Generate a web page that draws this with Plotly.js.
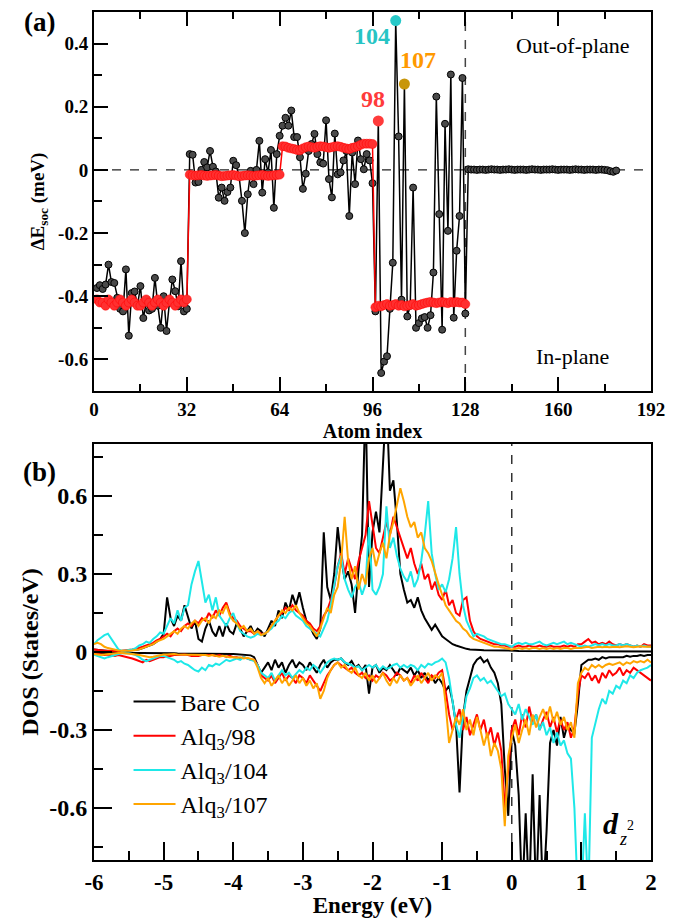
<!DOCTYPE html>
<html>
<head>
<meta charset="utf-8">
<script src="https://cdn.plot.ly/plotly-3.0.1.min.js"></script>
<style>html,body{margin:0;padding:0;background:#fff;}#chart{width:681px;height:918px;}</style>
</head>
<body>
<div id="chart"></div>
<script>
// ---------- Panel (a): ΔE_soc vs atom index ----------
const atomIndex = [
1,2,3,4,5,6,7,8,9,10,11,12,13,14,15,16,17,18,19,20,
21,22,23,24,25,26,27,28,29,30,31,32,33,34,35,36,37,38,39,40,
41,42,43,44,45,46,47,48,49,50,51,52,53,54,55,56,57,58,59,60,
61,62,63,64,65,66,67,68,69,70,71,72,73,74,75,76,77,78,79,80,
81,82,83,84,85,86,87,88,89,90,91,92,93,94,95,96,97,98,99,100,
101,102,103,104,105,106,107,108,109,110,111,112,113,114,115,116,117,118,119,120,
121,122,123,124,125,126,127,128,129,130,131,132,133,134,135,136,137,138,139,140,
141,142,143,144,145,146,147,148,149,150,151,152,153,154,155,156,157,158,159,160,
161,162,163,164,165,166,167,168,169,170,171,172,173,174,175,176,177,178,179,180];

const dEsocAtom = [
-0.374,-0.365,-0.377,-0.363,-0.30,-0.355,-0.358,-0.405,-0.44,-0.448,
-0.315,-0.525,-0.39,-0.385,-0.43,-0.368,-0.469,-0.42,-0.445,-0.44,
-0.342,-0.43,-0.50,-0.40,-0.51,-0.42,-0.347,-0.384,-0.432,-0.289,
-0.448,-0.44,0.05,0.048,-0.04,-0.038,0.0,0.025,0.008,0.06,
0.01,-0.005,-0.088,-0.056,-0.098,-0.07,-0.056,0.029,0.015,-0.02,
-0.098,-0.20,-0.077,-0.003,-0.045,0.0,0.092,-0.072,0.034,-0.008,
0.063,-0.12,0.05,0.108,0.14,0.165,0.14,0.188,0.104,0.104,
0.04,-0.06,-0.012,0.06,0.082,0.114,0.05,0.024,0.02,0.157,
-0.029,-0.087,0.115,-0.014,-0.008,0.03,0.06,-0.146,0.055,-0.045,
0.093,0.034,0.002,0.05,0.03,-0.042,-0.448,0.155,-0.643,-0.607,
-0.59,-0.44,-0.294,0.473,0.106,-0.411,0.272,-0.464,-0.43,-0.056,
-0.50,-0.485,-0.47,-0.466,-0.50,-0.46,-0.325,0.232,-0.14,-0.506,
0.146,-0.193,0.302,-0.468,-0.256,-0.146,0.291,-0.455,0.002,0.001,
0.001,0.0,0.001,0.001,0.0,0.001,0.002,0.001,0.001,0.0,
0.001,0.001,0.002,0.001,0.0,0.001,0.001,0.001,0.0,0.001,
0.002,0.001,0.001,0.0,0.001,0.001,0.001,0.002,0.001,0.0,
0.001,0.001,0.001,0.0,0.001,0.002,0.001,0.001,0.0,0.001,
0.001,0.001,0.0,0.001,0.001,0.0,-0.001,-0.004,-0.006,-0.002];

const dEsocLayerAvg = [
-0.41,-0.42,-0.42,-0.43,-0.41,-0.42,-0.43,-0.42,-0.41,-0.42,
-0.43,-0.42,-0.41,-0.42,-0.43,-0.43,-0.42,-0.41,-0.42,-0.43,
-0.42,-0.41,-0.42,-0.43,-0.42,-0.41,-0.42,-0.43,-0.42,-0.41,
-0.42,-0.41,
-0.015,-0.017,-0.018,-0.017,-0.016,-0.018,-0.019,-0.018,-0.017,-0.016,
-0.018,-0.02,-0.019,-0.018,-0.017,-0.016,-0.018,-0.02,-0.019,-0.018,
-0.017,-0.018,-0.019,-0.018,-0.017,-0.016,-0.018,-0.019,-0.018,-0.017,
-0.016,-0.015,
0.075,0.074,0.07,0.068,0.066,0.063,0.062,0.068,0.072,0.074,
0.072,0.07,0.073,0.075,0.074,0.072,0.07,0.072,0.074,0.075,
0.073,0.07,0.068,0.066,0.07,0.072,0.075,0.08,0.083,0.083,
0.083,0.082,
-0.435,-0.43,-0.432,-0.428,-0.425,-0.43,-0.428,-0.425,-0.43,-0.428,
-0.432,-0.43,-0.428,-0.425,-0.43,-0.428,-0.425,-0.422,-0.42,-0.418,
-0.42,-0.422,-0.42,-0.418,-0.42,-0.422,-0.418,-0.42,-0.418,-0.42,
-0.42,-0.425];

const siteAtoms  = [98, 104, 107];
const siteValues = [0.155, 0.473, 0.272];
const siteLabels = ['98', '104', '107'];

const topXTickVals = [0, 32, 64, 96, 128, 160, 192];
const topXTickText = ['0', '32', '64', '96', '128', '160', '192'];
const topYTickVals = [-0.6, -0.4, -0.2, 0, 0.2, 0.4];
const topYTickText = ['-0.6', '-0.4', '-0.2', '0', '0.2', '0.4'];

// ---------- Panel (b): d_z2 DOS ----------
const energy = [
-6,-5.95,-5.9,-5.85,-5.8,-5.75,-5.7,-5.65,-5.6,-5.55,
-5.5,-5.45,-5.4,-5.35,-5.3,-5.25,-5.2,-5.15,-5.1,-5.05,
-5,-4.95,-4.9,-4.85,-4.8,-4.75,-4.7,-4.65,-4.6,-4.55,
-4.5,-4.45,-4.4,-4.35,-4.3,-4.25,-4.2,-4.15,-4.1,-4.05,
-4,-3.95,-3.9,-3.85,-3.8,-3.75,-3.7,-3.65,-3.6,-3.55,
-3.5,-3.45,-3.4,-3.35,-3.3,-3.25,-3.2,-3.15,-3.1,-3.05,
-3,-2.95,-2.9,-2.85,-2.8,-2.75,-2.7,-2.65,-2.6,-2.55,
-2.5,-2.45,-2.4,-2.35,-2.3,-2.25,-2.2,-2.15,-2.1,-2.05,
-2,-1.95,-1.9,-1.85,-1.8,-1.75,-1.7,-1.65,-1.6,-1.55,
-1.5,-1.45,-1.4,-1.35,-1.3,-1.25,-1.2,-1.15,-1.1,-1.05,
-1,-0.95,-0.9,-0.85,-0.8,-0.75,-0.7,-0.65,-0.6,-0.55,
-0.5,-0.45,-0.4,-0.35,-0.3,-0.25,-0.2,-0.15,-0.1,-0.05,
0,0.05,0.1,0.15,0.2,0.25,0.3,0.35,0.4,0.45,
0.5,0.55,0.6,0.65,0.7,0.75,0.8,0.85,0.9,0.95,
1,1.05,1.1,1.15,1.2,1.25,1.3,1.35,1.4,1.45,
1.5,1.55,1.6,1.65,1.7,1.75,1.8,1.85,1.9,1.95,
2];

const bareUp = [
0.010,0.008,0.006,0.005,0.004,0.004,0.003,0.003,0.003,0.004,
0.005,0.006,0.008,0.010,0.015,0.020,0.025,0.030,0.040,0.050,
0.070,0.210,0.130,0.100,0.140,0.120,0.180,0.130,0.090,0.120,
0.050,0.040,0.090,0.120,0.080,0.060,0.100,0.060,0.110,0.080,
0.070,0.110,0.090,0.060,0.080,0.100,0.070,0.090,0.080,0.060,
0.090,0.120,0.100,0.160,0.130,0.190,0.160,0.220,0.180,0.230,
0.170,0.120,0.100,0.070,0.050,0.090,0.460,0.250,0.200,0.300,
0.480,0.360,0.280,0.310,0.260,0.150,0.320,0.450,0.980,0.250,
0.460,0.540,0.460,0.750,0.980,0.620,0.660,0.500,0.300,0.240,
0.190,0.200,0.170,0.210,0.160,0.130,0.110,0.085,0.105,0.080,
0.060,0.050,0.040,0.030,0.025,0.020,0.015,0.012,0.010,0.010,
0.008,0.008,0.007,0.007,0.006,0.006,0.006,0.005,0.005,0.005,
0.005,0.005,0.004,0.004,0.004,0.004,0.003,0.003,0.003,0.003,
0.003,0.003,0.003,0.003,0.002,0.002,0.002,0.002,0.002,0.002,
0.002,0.002,0.002,0.002,0.002,0.002,0.002,0.002,0.002,0.002,
0.002,0.002,0.002,0.002,0.002,0.002,0.002,0.002,0.002,0.002,
0.002];
const bareDown = [
-0.003,-0.004,-0.004,-0.004,-0.003,-0.003,-0.003,-0.003,-0.003,-0.003,
-0.003,-0.003,-0.003,-0.004,-0.004,-0.004,-0.004,-0.005,-0.005,-0.005,
-0.005,-0.005,-0.005,-0.005,-0.006,-0.006,-0.006,-0.006,-0.006,-0.006,
-0.006,-0.006,-0.007,-0.007,-0.007,-0.007,-0.008,-0.008,-0.008,-0.008,
-0.008,-0.009,-0.010,-0.011,-0.012,-0.013,-0.020,-0.050,-0.080,-0.060,
-0.040,-0.070,-0.030,-0.060,-0.040,-0.080,-0.050,-0.030,-0.060,-0.040,
-0.050,-0.070,-0.040,-0.060,-0.080,-0.050,-0.030,-0.060,-0.040,-0.030,
-0.030,-0.025,-0.040,-0.050,-0.035,-0.060,-0.050,-0.070,-0.050,-0.160,
-0.060,-0.050,-0.080,-0.060,-0.070,-0.050,-0.070,-0.090,-0.060,-0.070,
-0.080,-0.060,-0.090,-0.070,-0.100,-0.080,-0.110,-0.090,-0.120,-0.100,
-0.120,-0.150,-0.130,-0.190,-0.280,-0.540,-0.250,-0.150,-0.100,-0.050,
-0.030,-0.020,-0.040,-0.030,-0.060,-0.080,-0.120,-0.200,-0.450,-0.630,
-0.300,-0.360,-0.550,-0.950,-0.620,-0.950,-0.470,-0.950,-0.550,-0.950,
-0.690,-0.350,-0.300,-0.360,-0.250,-0.330,-0.280,-0.300,-0.310,-0.200,
-0.050,-0.040,-0.030,-0.030,-0.025,-0.030,-0.020,-0.025,-0.020,-0.020,
-0.020,-0.018,-0.020,-0.015,-0.018,-0.015,-0.015,-0.012,-0.015,-0.012,
-0.012];

const alq98Up = [
0.010,0.008,0.006,0.005,0.005,0.004,0.004,0.004,0.005,0.006,
0.008,0.010,0.012,0.015,0.020,0.025,0.030,0.035,0.045,0.050,
0.060,0.070,0.060,0.080,0.090,0.080,0.100,0.110,0.100,0.120,
0.110,0.130,0.120,0.150,0.130,0.160,0.140,0.170,0.190,0.150,
0.130,0.120,0.100,0.090,0.080,0.080,0.070,0.080,0.070,0.070,
0.080,0.100,0.120,0.140,0.150,0.170,0.160,0.180,0.160,0.150,
0.140,0.120,0.110,0.090,0.080,0.100,0.140,0.160,0.200,0.250,
0.330,0.380,0.300,0.360,0.320,0.280,0.350,0.400,0.450,0.580,
0.480,0.400,0.380,0.440,0.500,0.450,0.520,0.480,0.440,0.400,
0.360,0.400,0.340,0.300,0.340,0.280,0.300,0.240,0.270,0.220,
0.200,0.240,0.180,0.200,0.150,0.140,0.200,0.210,0.120,0.080,
0.060,0.050,0.045,0.040,0.035,0.030,0.030,0.025,0.025,0.020,
0.020,0.020,0.025,0.020,0.020,0.025,0.020,0.020,0.025,0.020,
0.020,0.025,0.020,0.020,0.020,0.025,0.020,0.025,0.020,0.030,
0.030,0.040,0.050,0.035,0.040,0.030,0.035,0.030,0.040,0.030,
0.025,0.030,0.025,0.030,0.025,0.020,0.025,0.020,0.030,0.025,
0.025];
const alq98Down = [
-0.005,-0.008,-0.010,-0.012,-0.010,-0.012,-0.015,-0.012,-0.015,-0.018,
-0.020,-0.025,-0.030,-0.035,-0.040,-0.030,-0.035,-0.030,-0.025,-0.020,
-0.020,-0.015,-0.015,-0.012,-0.012,-0.010,-0.010,-0.012,-0.015,-0.015,
-0.015,-0.012,-0.012,-0.010,-0.012,-0.015,-0.012,-0.015,-0.018,-0.015,
-0.020,-0.020,-0.025,-0.020,-0.025,-0.030,-0.030,-0.050,-0.090,-0.100,
-0.110,-0.090,-0.120,-0.100,-0.080,-0.110,-0.090,-0.100,-0.120,-0.090,
-0.100,-0.120,-0.090,-0.110,-0.130,-0.150,-0.120,-0.090,-0.070,-0.050,
-0.040,-0.050,-0.060,-0.070,-0.060,-0.080,-0.090,-0.080,-0.100,-0.090,
-0.110,-0.090,-0.100,-0.080,-0.090,-0.110,-0.100,-0.080,-0.090,-0.110,
-0.100,-0.120,-0.090,-0.110,-0.080,-0.100,-0.120,-0.090,-0.100,-0.080,
-0.070,-0.150,-0.240,-0.300,-0.260,-0.220,-0.300,-0.250,-0.320,-0.280,
-0.240,-0.300,-0.260,-0.330,-0.290,-0.360,-0.310,-0.380,-0.600,-0.450,
-0.300,-0.260,-0.320,-0.240,-0.290,-0.210,-0.270,-0.240,-0.300,-0.260,
-0.230,-0.290,-0.250,-0.310,-0.260,-0.300,-0.270,-0.330,-0.290,-0.160,
-0.090,-0.100,-0.080,-0.110,-0.090,-0.120,-0.080,-0.100,-0.070,-0.090,
-0.080,-0.060,-0.090,-0.070,-0.080,-0.060,-0.070,-0.080,-0.090,-0.100,
-0.110];

const alq104Up = [
0.030,0.045,0.055,0.065,0.070,0.050,0.025,0.010,0.005,0.005,
0.008,0.010,0.015,0.025,0.030,0.040,0.035,0.050,0.060,0.075,
0.070,0.100,0.130,0.110,0.160,0.120,0.170,0.180,0.260,0.310,
0.350,0.270,0.190,0.220,0.160,0.210,0.140,0.120,0.100,0.130,
0.150,0.110,0.080,0.070,0.060,0.055,0.060,0.070,0.065,0.070,
0.080,0.090,0.110,0.120,0.140,0.130,0.150,0.160,0.140,0.130,
0.120,0.100,0.090,0.080,0.070,0.060,0.090,0.120,0.180,0.250,
0.330,0.370,0.280,0.240,0.210,0.250,0.270,0.220,0.260,0.480,
0.240,0.220,0.250,0.300,0.560,0.400,0.440,0.370,0.320,0.290,
0.270,0.310,0.250,0.280,0.350,0.450,0.580,0.380,0.300,0.240,
0.260,0.230,0.280,0.360,0.480,0.300,0.180,0.120,0.090,0.060,
0.070,0.065,0.060,0.050,0.045,0.040,0.035,0.030,0.030,0.025,
0.020,0.030,0.035,0.030,0.035,0.030,0.030,0.035,0.040,0.030,
0.025,0.030,0.035,0.030,0.035,0.040,0.030,0.035,0.030,0.025,
0.020,0.025,0.020,0.025,0.030,0.025,0.030,0.025,0.030,0.025,
0.025,0.030,0.025,0.030,0.025,0.020,0.025,0.020,0.025,0.020,
0.020];
const alq104Down = [
-0.010,-0.015,-0.020,-0.025,-0.020,-0.015,-0.010,-0.008,-0.005,-0.005,
-0.005,-0.008,-0.012,-0.020,-0.030,-0.035,-0.030,-0.025,-0.020,-0.015,
-0.015,-0.020,-0.025,-0.030,-0.040,-0.035,-0.045,-0.050,-0.060,-0.070,
-0.075,-0.060,-0.070,-0.050,-0.055,-0.045,-0.050,-0.040,-0.030,-0.035,
-0.030,-0.025,-0.030,-0.020,-0.025,-0.030,-0.035,-0.050,-0.080,-0.090,
-0.100,-0.080,-0.110,-0.090,-0.070,-0.090,-0.080,-0.100,-0.085,-0.070,
-0.080,-0.060,-0.070,-0.050,-0.060,-0.080,-0.060,-0.040,-0.030,-0.025,
-0.030,-0.025,-0.040,-0.045,-0.050,-0.060,-0.055,-0.070,-0.060,-0.050,
-0.060,-0.050,-0.070,-0.055,-0.065,-0.060,-0.050,-0.045,-0.060,-0.050,
-0.060,-0.050,-0.055,-0.070,-0.050,-0.060,-0.045,-0.050,-0.040,-0.035,
-0.025,-0.040,-0.100,-0.200,-0.280,-0.330,-0.250,-0.170,-0.140,-0.100,
-0.090,-0.110,-0.100,-0.120,-0.110,-0.130,-0.150,-0.170,-0.160,-0.200,
-0.220,-0.240,-0.200,-0.260,-0.220,-0.250,-0.280,-0.240,-0.300,-0.270,
-0.320,-0.290,-0.350,-0.310,-0.360,-0.340,-0.390,-0.410,-0.600,-0.950,
-0.950,-0.620,-0.950,-0.330,-0.270,-0.220,-0.180,-0.200,-0.150,-0.160,
-0.130,-0.140,-0.110,-0.120,-0.090,-0.100,-0.080,-0.070,-0.065,-0.060,
-0.050];

const alq107Up = [
0.030,0.035,0.030,0.020,0.015,0.012,0.008,0.006,0.005,0.005,
0.005,0.006,0.008,0.010,0.015,0.020,0.025,0.030,0.040,0.045,
0.050,0.060,0.070,0.080,0.070,0.090,0.100,0.090,0.110,0.120,
0.100,0.120,0.130,0.110,0.140,0.130,0.160,0.150,0.180,0.140,
0.120,0.110,0.090,0.100,0.080,0.090,0.070,0.080,0.065,0.070,
0.080,0.100,0.120,0.140,0.160,0.150,0.170,0.160,0.180,0.150,
0.130,0.110,0.100,0.080,0.060,0.090,0.130,0.170,0.150,0.220,
0.250,0.350,0.520,0.350,0.280,0.330,0.240,0.300,0.260,0.360,
0.400,0.330,0.380,0.420,0.360,0.450,0.500,0.560,0.630,0.580,
0.520,0.480,0.500,0.440,0.460,0.400,0.380,0.350,0.300,0.260,
0.220,0.180,0.160,0.140,0.120,0.110,0.090,0.080,0.060,0.050,
0.045,0.040,0.035,0.030,0.025,0.020,0.020,0.018,0.015,0.012,
0.010,0.012,0.015,0.012,0.015,0.012,0.015,0.015,0.012,0.015,
0.012,0.015,0.012,0.015,0.012,0.015,0.015,0.012,0.015,0.015,
0.015,0.018,0.020,0.015,0.018,0.020,0.018,0.020,0.018,0.020,
0.020,0.018,0.020,0.022,0.020,0.018,0.020,0.022,0.020,0.020,
0.020];
const alq107Down = [
-0.008,-0.010,-0.012,-0.010,-0.008,-0.006,-0.005,-0.004,-0.004,-0.005,
-0.006,-0.008,-0.010,-0.012,-0.015,-0.018,-0.020,-0.018,-0.015,-0.012,
-0.010,-0.010,-0.008,-0.008,-0.010,-0.010,-0.012,-0.012,-0.010,-0.012,
-0.012,-0.010,-0.012,-0.015,-0.012,-0.015,-0.018,-0.015,-0.018,-0.020,
-0.020,-0.022,-0.020,-0.025,-0.022,-0.025,-0.030,-0.060,-0.100,-0.120,
-0.100,-0.130,-0.110,-0.090,-0.120,-0.100,-0.130,-0.110,-0.090,-0.120,
-0.100,-0.130,-0.110,-0.140,-0.120,-0.180,-0.150,-0.100,-0.070,-0.050,
-0.040,-0.060,-0.050,-0.070,-0.080,-0.060,-0.090,-0.100,-0.080,-0.110,
-0.090,-0.120,-0.100,-0.080,-0.110,-0.130,-0.100,-0.120,-0.090,-0.110,
-0.100,-0.130,-0.110,-0.090,-0.120,-0.100,-0.080,-0.110,-0.090,-0.100,
-0.080,-0.200,-0.350,-0.300,-0.250,-0.280,-0.220,-0.300,-0.260,-0.320,
-0.250,-0.300,-0.360,-0.310,-0.400,-0.350,-0.380,-0.450,-0.670,-0.400,
-0.330,-0.280,-0.350,-0.300,-0.260,-0.320,-0.240,-0.290,-0.250,-0.220,
-0.260,-0.210,-0.270,-0.230,-0.280,-0.250,-0.300,-0.270,-0.330,-0.120,
-0.080,-0.060,-0.070,-0.050,-0.060,-0.050,-0.060,-0.050,-0.045,-0.050,
-0.045,-0.040,-0.050,-0.040,-0.045,-0.035,-0.040,-0.035,-0.040,-0.030,
-0.040];

const dosNames = ['Bare Co', 'Alq<sub>3</sub>/98', 'Alq<sub>3</sub>/104', 'Alq<sub>3</sub>/107'];
const botXTickVals = [-6, -5, -4, -3, -2, -1, 0, 1, 2];
const botXTickText = ['-6', '-5', '-4', '-3', '-2', '-1', '0', '1', '2'];
const botYTickVals = [-0.6, -0.3, 0, 0.3, 0.6];
const botYTickText = ['-0.6', '-0.3', '0', '0.3', '0.6'];

// ---------- styles ----------
const SERIF = 'Liberation Serif';
const dosColors = ['#000000', '#ff0000', '#1ee8e8', '#ffa500'];
const siteColors = ['#ff3b3b', '#27c8c8', '#c8960a'];
const siteLabelColors = ['#ff3b3b', '#27c4c4', '#ff9900'];

const traces = [];
traces.push({
  x: atomIndex, y: dEsocAtom, xaxis: 'x', yaxis: 'y', type: 'scatter', mode: 'lines+markers',
  line: {color: '#000', width: 1.5},
  marker: {symbol: 'circle', size: 7, color: '#4a4a4a', line: {color: '#000', width: 1}},
  showlegend: false, hoverinfo: 'skip'
});
traces.push({
  x: atomIndex.slice(0, dEsocLayerAvg.length), y: dEsocLayerAvg, xaxis: 'x', yaxis: 'y', type: 'scatter', mode: 'lines+markers',
  line: {color: '#ff0000', width: 1.5},
  marker: {symbol: 'circle', size: 9, color: '#ff3030', line: {color: '#ff0000', width: 0.5}},
  showlegend: false, hoverinfo: 'skip'
});
traces.push({
  x: siteAtoms, y: siteValues, xaxis: 'x', yaxis: 'y', type: 'scatter', mode: 'markers',
  marker: {symbol: 'circle', size: 11, color: siteColors},
  showlegend: false, hoverinfo: 'skip'
});

const ups = [bareUp, alq98Up, alq104Up, alq107Up];
const downs = [bareDown, alq98Down, alq104Down, alq107Down];
for (let k = 0; k < 4; k++) {
  traces.push({
    x: energy.concat([null], energy),
    y: ups[k].concat([null], downs[k]),
    xaxis: 'x2', yaxis: 'y2', type: 'scatter', mode: 'lines',
    name: dosNames[k], legendgroup: 'g' + k,
    line: {color: dosColors[k], width: 2},
    connectgaps: false, hoverinfo: 'skip'
  });
}

function note(text, xref, yref, x, y, size, color) {
  return {text: text, xref: xref, yref: yref, x: x, y: y, xanchor: 'center', yanchor: 'middle',
          showarrow: false, font: {family: SERIF, size: size, color: color}};
}
const annotations = [
  note('<b>(a)</b>', 'paper', 'paper', -0.0987, 0.988, 27, '#000'),
  note('<b>(b)</b>', 'paper', 'paper', -0.097, 0.4575, 27, '#000'),
  note('Out-of-plane', 'x', 'y', 165.1, 0.395, 22, '#000'),
  note('In-plane', 'x', 'y', 165.1, -0.59, 22, '#000'),
  note('<b>' + siteLabels[0] + '</b>', 'x', 'y', 96.2, 0.226, 24, siteLabelColors[0]),
  note('<b>' + siteLabels[1] + '</b>', 'x', 'y', 95.8, 0.423, 24, siteLabelColors[1]),
  note('<b>' + siteLabels[2] + '</b>', 'x', 'y', 111.7, 0.347, 24, siteLabelColors[2]),
  note('<b><i>d</i></b>', 'x2', 'y2', 1.43, -0.661, 30, '#000'),
  note('<i>z</i>', 'x2', 'y2', 1.60, -0.719, 18, '#000'),
  note('2', 'x2', 'y2', 1.70, -0.669, 14, '#000')
];

const shapes = [
  {type: 'line', xref: 'x domain', yref: 'y', x0: 0, x1: 1, y0: 0, y1: 0, layer: 'below', line: {color: '#222', width: 1.2, dash: 'dash'}},
  {type: 'line', xref: 'x', yref: 'y domain', x0: 128, x1: 128, y0: 0, y1: 1, layer: 'below', line: {color: '#444', width: 1.5, dash: 'dash'}},
  {type: 'line', xref: 'x2', yref: 'y2 domain', x0: 0, x1: 0, y0: 0, y1: 1, layer: 'below', line: {color: '#333', width: 1.5, dash: 'dash'}}
];

function axisBase(extra) {
  return Object.assign({
    showline: true, linecolor: '#000', linewidth: 2, showgrid: false, zeroline: false,
    ticks: 'inside', tickcolor: '#000', tickwidth: 2, tickmode: 'array'
  }, extra);
}

const layout = {
  width: 681, height: 918,
  margin: {l: 94, r: 30, t: 12, b: 58},
  paper_bgcolor: '#fff', plot_bgcolor: '#fff',
  font: {family: SERIF, color: '#000'},
  showlegend: true,
  legend: {
    x: 0.062, y: 0.213, xanchor: 'left', yanchor: 'top',
    bgcolor: 'rgba(0,0,0,0)', borderwidth: 0,
    font: {family: SERIF, size: 24, color: '#000'},
    traceorder: 'grouped', tracegroupgap: 0, itemwidth: 42
  },
  xaxis: axisBase({
    domain: [0, 1], anchor: 'y', range: [0, 192],
    tickvals: topXTickVals, ticktext: topXTickText, ticklen: 14, mirror: 'ticks',
    minor: {tickmode: 'linear', tick0: 0, dtick: 16, ticks: 'inside', ticklen: 7, tickwidth: 2, tickcolor: '#000'},
    tickfont: {family: SERIF, size: 19, weight: 'bold', color: '#000'},
    title: {text: 'Atom index', font: {family: SERIF, size: 20, weight: 'bold', color: '#000'}, standoff: 2}
  }),
  yaxis: axisBase({
    domain: [0.5531, 1], anchor: 'x', range: [-0.7, 0.5],
    tickvals: topYTickVals, ticktext: topYTickText, ticklen: 14, mirror: true,
    minor: {tickmode: 'linear', tick0: 0, dtick: 0.1, ticks: 'inside', ticklen: 8, tickwidth: 2, tickcolor: '#000'},
    tickfont: {family: SERIF, size: 19, weight: 'bold', color: '#000'},
    title: {text: 'ΔE<sub>soc</sub> (meV)', font: {family: SERIF, size: 19, weight: 'bold', color: '#000'}, standoff: 8}
  }),
  xaxis2: axisBase({
    domain: [0, 1], anchor: 'y2', range: [-6, 2],
    tickvals: botXTickVals, ticktext: botXTickText, ticklen: 18, mirror: true,
    minor: {tickmode: 'linear', tick0: 0, dtick: 0.5, ticks: 'inside', ticklen: 9, tickwidth: 2, tickcolor: '#000'},
    tickfont: {family: SERIF, size: 23, weight: 'bold', color: '#000'},
    title: {text: 'Energy (eV)', font: {family: SERIF, size: 23, weight: 'bold', color: '#000'}, standoff: 4}
  }),
  yaxis2: axisBase({
    domain: [0, 0.4906], anchor: 'x2', range: [-0.8, 0.8],
    tickvals: botYTickVals, ticktext: botYTickText, ticklen: 18, mirror: true,
    minor: {tickmode: 'linear', tick0: 0, dtick: 0.15, ticks: 'inside', ticklen: 9, tickwidth: 2, tickcolor: '#000'},
    tickfont: {family: SERIF, size: 24, weight: 'bold', color: '#000'},
    title: {text: 'DOS (States/eV)', font: {family: SERIF, size: 24, weight: 'bold', color: '#000'}, standoff: 4}
  }),
  annotations: annotations,
  shapes: shapes
};

Plotly.newPlot('chart', traces, layout, {displayModeBar: false, staticPlot: true});
</script>
</body>
</html>
